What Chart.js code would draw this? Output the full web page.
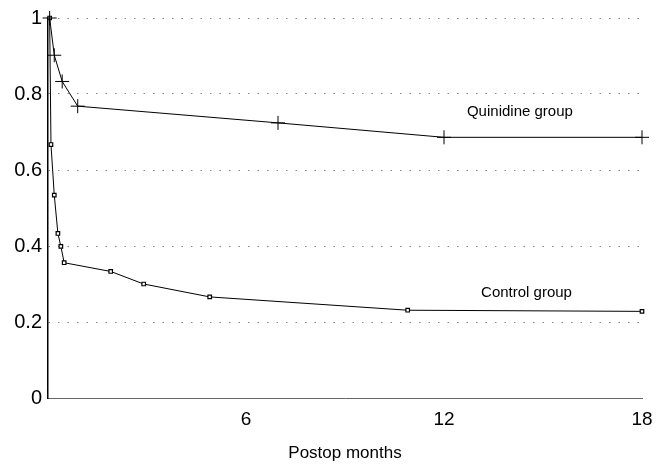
<!DOCTYPE html>
<html>
<head>
<meta charset="utf-8">
<script src="https://cdn.jsdelivr.net/npm/chart.js@4/dist/chart.umd.min.js"></script>
<style>
  html, body { margin: 0; padding: 0; background: #fff; }
  #wrap { width: 666px; height: 464px; }
</style>
</head>
<body>
<div id="wrap"><canvas id="c" width="666" height="464"></canvas></div>
<script>
// ─── DATA ───
const quinMonths = [0.05, 0.19, 0.43, 0.9, 6.97, 12, 18];
const quinValues = [1.0, 0.902, 0.833, 0.768, 0.724, 0.686, 0.686];

const ctrlMonths = [0.05, 0.09, 0.19, 0.30, 0.39, 0.49, 1.9, 2.9, 4.9, 10.9, 18];
const ctrlValues = [1.0, 0.667, 0.534, 0.433, 0.399, 0.356, 0.333, 0.300, 0.266, 0.231, 0.228];

const xTicks = [6, 12, 18];
const yTicks = [0, 0.2, 0.4, 0.6, 0.8, 1];

const seriesLabels = ['Quinidine group', 'Control group'];
// where each curve label sits (data coords)
const labelPos = [[14.3, 0.754], [14.5, 0.278]];

function toPoints(xs, ys) {
    return xs.map((x, i) => ({ x: x, y: ys[i] }));
}

// ─── CURVE LABELS ───
const curveLabels = {
    id: 'curveLabels',
    afterDatasetsDraw(chart) {
        const ctx = chart.ctx;
        const xs = chart.scales.x, ys = chart.scales.y;
        ctx.save();
        ctx.fillStyle = '#000';
        ctx.font = '15px "Liberation Sans", Arial, sans-serif';
        ctx.textAlign = 'center';
        ctx.textBaseline = 'middle';
        seriesLabels.forEach((t, i) => {
            ctx.fillText(t, xs.getPixelForValue(labelPos[i][0]), ys.getPixelForValue(labelPos[i][1]));
        });
        ctx.restore();
    }
};

new Chart(document.getElementById('c'), {
    type: 'scatter',
    data: {
        datasets: [
            {
                label: seriesLabels[0],
                data: toPoints(quinMonths, quinValues),
                showLine: true,
                clip: false,
                borderColor: '#000',
                borderWidth: 1,
                pointStyle: 'cross',
                pointRadius: 7,
                pointBorderColor: '#000',
                pointBorderWidth: 1
            },
            {
                label: seriesLabels[1],
                data: toPoints(ctrlMonths, ctrlValues),
                showLine: true,
                clip: false,
                borderColor: '#000',
                borderWidth: 1,
                pointStyle: 'rect',
                pointRadius: 2.5,
                pointBackgroundColor: '#fff',
                pointBorderColor: '#000',
                pointBorderWidth: 1.2
            }
        ]
    },
    options: {
        responsive: false,
        animation: false,
        layout: { padding: { left: 0, right: 24, top: 16, bottom: 0 } },
        plugins: {
            legend: { display: false },
            tooltip: { enabled: false }
        },
        scales: {
            x: {
                type: 'linear',
                min: 0,
                max: 18,
                afterBuildTicks: axis => { axis.ticks = xTicks.map(v => ({ value: v })); },
                afterFit: axis => { axis.height = 66; },
                grid: { display: false, drawTicks: false },
                border: { display: true, color: '#666', width: 1 },
                ticks: {
                    color: '#000',
                    padding: 10,
                    maxRotation: 0,
                    autoSkip: false,
                    font: { family: '"Liberation Sans Narrow", "Liberation Sans", Arial, sans-serif', size: 19 }
                },
                title: {
                    display: true,
                    text: 'Postop months',
                    color: '#000',
                    padding: { top: 10, bottom: 0 },
                    font: { family: '"Liberation Sans", Arial, sans-serif', size: 17 }
                }
            },
            y: {
                min: 0,
                max: 1,
                afterBuildTicks: axis => { axis.ticks = yTicks.map(v => ({ value: v })); },
                afterFit: axis => { axis.width = 48; },
                grid: {
                    color: ctx => ctx.tick && ctx.tick.value === 0 ? 'rgba(0,0,0,0)' : '#888',
                    lineWidth: 1,
                    drawTicks: false
                },
                border: { display: true, color: '#000', width: 1.5, dash: [1.5, 8] },
                ticks: {
                    color: '#000',
                    padding: 6,
                    callback: v => String(+v.toFixed(1)),
                    font: { family: '"Liberation Sans", Arial, sans-serif', size: 20 }
                }
            }
        }
    },
    plugins: [curveLabels]
});
</script>
</body>
</html>
